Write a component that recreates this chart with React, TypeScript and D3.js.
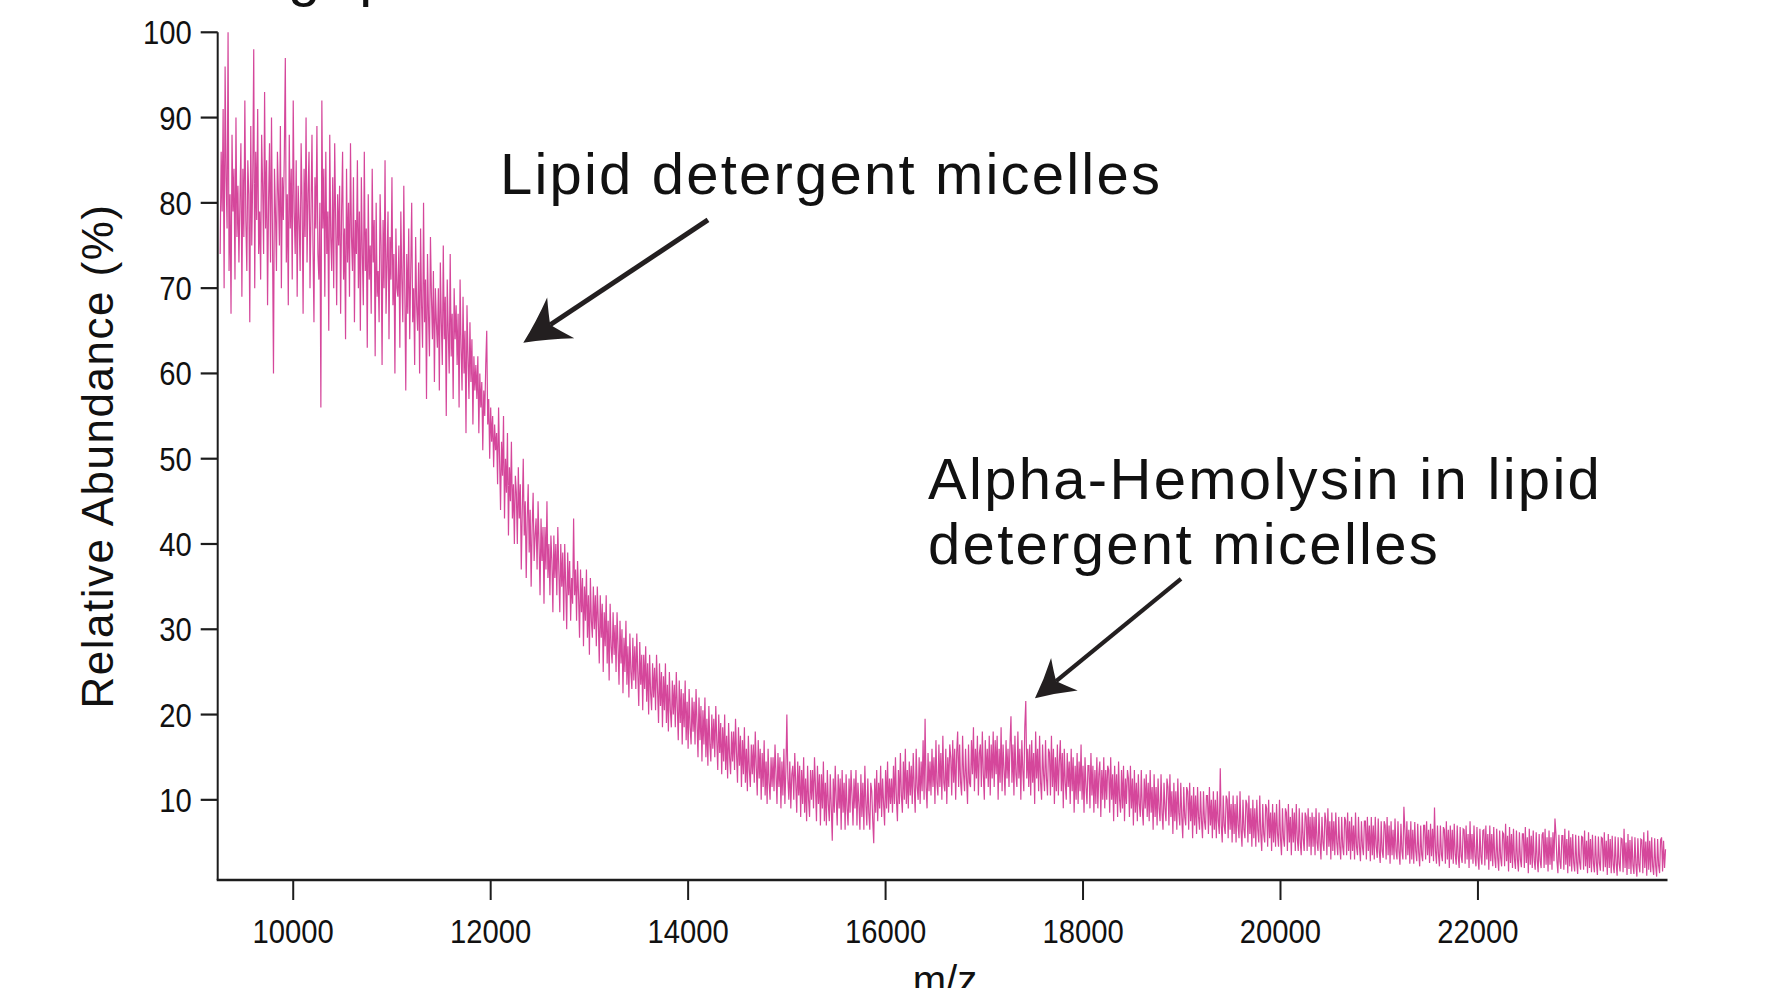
import React from "react";
import * as d3 from "d3";

// ---- data ----
const mzStart = 9260;
const mzStep = 10;
const relAbundance: number[] = [
  74, 86, 79, 91, 70, 96, 83, 77, 100, 72, 81, 67, 88, 79, 84, 71, 90, 76, 82, 73,
  80, 87, 69, 84, 76, 92, 78, 72, 85, 81, 66, 89, 75, 83, 98, 70, 86, 78, 91, 74,
  79, 71, 88, 82, 74, 93, 77, 85, 68, 80, 87, 73, 90, 76, 60, 84, 79, 72, 86, 81,
  75, 89, 70, 83, 78, 86, 97, 73, 81, 68, 88, 77, 84, 71, 92, 79, 74, 85, 69, 82,
  78, 72, 87, 80, 67, 84, 76, 90, 73, 81, 86, 70, 79, 88, 75, 66, 83, 77, 89, 74,
  71, 80, 56, 92, 77, 84, 69, 86, 74, 79, 65, 88, 76, 72, 83, 70, 87, 78, 68, 81,
  75, 82, 67, 79, 86, 71, 77, 64, 84, 73, 80, 69, 87, 76, 72, 83, 66, 78, 74, 85,
  70, 79, 65, 83, 74, 68, 86, 72, 77, 63, 81, 71, 75, 67, 84, 73, 78, 62, 80, 69,
  72, 66, 81, 75, 61, 78, 70, 85, 67, 73, 79, 64, 76, 71, 83, 68, 74, 60, 77, 70,
  69, 75, 63, 79, 71, 66, 82, 70, 58, 74, 67, 77, 64, 72, 80, 66, 70, 61, 76, 68,
  65, 73, 60, 77, 68, 63, 80, 66, 71, 57, 74, 67, 62, 76, 69, 64, 72, 59, 70, 66,
  63, 70, 58, 73, 66, 61, 75, 64, 69, 55, 71, 65, 60, 74, 62, 67, 57, 70, 64, 68,
  61, 67, 56, 71, 63, 58, 69, 60, 65, 53, 68, 62, 57, 66, 59, 64, 54, 62, 58, 61,
  57, 62, 53, 60, 56, 59, 51, 58, 55, 61, 65, 54, 57, 50, 56, 52, 55, 49, 54, 51,
  53, 47, 56, 50, 44, 52, 48, 55, 43, 50, 46, 53, 41, 49, 45, 52, 43, 47, 40, 48,
  46, 40, 49, 43, 47, 37, 44, 50, 41, 45, 36, 43, 47, 39, 44, 35, 42, 46, 38, 41,
  43, 37, 45, 40, 34, 43, 38, 42, 33, 42, 37, 45, 36, 40, 34, 41, 38, 32, 41, 36,
  40, 34, 42, 37, 32, 40, 35, 39, 31, 40, 35, 30, 39, 34, 38, 31, 36, 33, 43, 34,
  37, 31, 38, 34, 29, 37, 32, 36, 28, 35, 31, 37, 29, 34, 27, 36, 31, 29, 35, 30,
  34, 28, 35, 31, 26, 34, 29, 33, 25, 32, 28, 34, 26, 31, 24, 33, 28, 26, 32, 27,
  30.5, 25, 32, 28, 23.5, 31, 26, 30, 22.5, 29, 25, 31, 23.5, 28, 22, 29.5, 25, 23, 29, 24,
  28, 23, 29.5, 25, 21, 28.5, 23.5, 27, 20.5, 27, 23, 28, 21.5, 26, 20, 27, 22.5, 20.5, 26, 22,
  25.5, 20.5, 27, 23, 19, 26, 21, 25, 18.5, 24.5, 20.5, 26, 19, 23.5, 18, 25, 20.5, 18.5, 24, 20,
  23.5, 18.5, 25, 21, 17, 24, 19, 23, 16.5, 22.5, 18.5, 24, 17, 21.5, 16, 23, 18.5, 16.5, 22, 18,
  21.5, 16.5, 23, 19, 15, 22, 17, 21, 14.5, 20.5, 16.5, 22, 15, 19.5, 14, 21, 16.5, 14.5, 20, 16,
  19.5, 15, 21, 17, 13.5, 20, 15.5, 19, 13, 18.5, 14.5, 20, 13.5, 17.5, 12.5, 19, 15, 13, 18, 14.5,
  18, 13.5, 19.5, 15.5, 12, 18.5, 14, 17.5, 11.5, 17, 13, 18.5, 12, 16, 11, 17.5, 13.5, 11.5, 16.5, 13,
  16.5, 12, 18, 14, 10.5, 17, 12.5, 16, 10, 15.5, 11.5, 17, 10.5, 14.5, 9.5, 16, 12, 10, 15, 11.5,
  15, 11, 16.5, 13, 9.5, 15.5, 11.5, 15, 9, 14.5, 10.5, 16, 9.5, 13.5, 20, 12.5, 10, 14.5, 9, 13,
  14, 10, 15.5, 12, 8.5, 14.5, 10.5, 14, 8, 13.5, 9.5, 15, 8.5, 12.5, 7.5, 14, 10, 8, 13.5, 10,
  13.5, 9, 15, 11.5, 7.5, 14, 9.5, 13, 7, 13, 9, 14.5, 7.5, 12, 7, 13.5, 9.5, 7.5, 13, 9,
  5.2, 12.5, 8.5, 14, 10, 7, 13, 9, 12.5, 6.5, 13.5, 8.5, 12, 6.5, 13, 9, 7, 12.5, 8.5, 13.5,
  10.5, 7, 12.5, 9, 13.5, 7, 12, 9.5, 6.5, 13, 8, 12, 6.5, 14, 9.5, 7, 12.5, 8.5, 6.5, 12,
  11, 7.5, 4.9, 12.5, 8.5, 13.5, 7.5, 12, 9, 14, 8, 12.5, 9.5, 7, 13.5, 9, 14.5, 8.5, 12.5, 9.5,
  12.5, 8.5, 14, 9.5, 15, 10, 7.5, 13.5, 9.5, 15.5, 10.5, 8.5, 14.5, 10, 16, 9.5, 13.5, 9, 14.5, 10.5,
  14, 9.5, 15.5, 11.5, 8.5, 16, 11.5, 10, 15, 9.5, 14.5, 11, 17, 10, 19.5, 11.5, 9, 15.5, 11, 14.5,
  10.5, 16, 11.5, 15, 9.5, 17, 12, 10.5, 16.5, 11.5, 15.5, 10, 17.5, 12, 11, 16, 9.5, 15, 11.5, 16.5,
  15, 10.5, 17, 12, 16, 10, 15.5, 18, 11.5, 16.5, 12, 10.5, 17.5, 13, 11, 16, 12.5, 9.5, 16.5, 12,
  11.5, 17, 13, 18.5, 11, 16, 12.5, 17.5, 10.5, 15.5, 16.5, 11.5, 18, 13, 10, 17, 12.5, 16, 11.5, 17.5,
  10.5, 16.5, 12.5, 18, 11.5, 17, 13, 17.5, 10, 16, 12, 18.5, 11, 16.5, 13.5, 10.5, 17, 12.5, 16, 11.5,
  16.5, 19.8, 12, 16.5, 10.5, 17.5, 13, 11.5, 18, 12.5, 16, 10, 17, 13.5, 11, 18.5, 21.6, 12.5, 16, 11.5,
  16.5, 10.5, 17, 12, 15.5, 9.5, 18, 12.5, 16, 11, 17.5, 12, 10, 16.5, 13, 11, 17, 12.5, 10.5, 16,
  15.5, 10.5, 17.5, 11.5, 16, 9.5, 15, 11, 16.5, 10.5, 14.5, 17, 11, 15.5, 9, 16, 12, 10, 15.5, 11.5,
  14.5, 9.5, 16, 11, 15, 8.5, 14, 10, 15.5, 9.5, 14.5, 11, 16.5, 10, 14, 8.5, 15, 11.5, 9.5, 14,
  14, 9, 15.5, 10.5, 14, 8.5, 13.5, 9.5, 15, 9, 13, 14.5, 8, 13.5, 10, 15, 9, 13.5, 10, 14,
  13.5, 8.5, 15, 10, 13, 7.5, 14, 9.5, 13, 8, 14.5, 10, 8.5, 13.5, 9, 14, 7.5, 12.5, 9.5, 13.5,
  12.5, 8, 14, 9, 12.5, 7, 13.5, 8.5, 12, 7.5, 13, 9.5, 8, 13.5, 9, 7, 12.5, 9, 13, 8,
  12, 7.5, 13.5, 8.5, 11.5, 6.5, 13, 8, 11.5, 7, 12.5, 9, 7.5, 13, 8.5, 6.5, 12, 9, 7.5, 12.5,
  11.5, 7, 13, 8, 11, 6, 12, 7.5, 11, 6.5, 12.5, 8.5, 7, 12, 8, 5.5, 11.5, 8, 7, 11.5,
  11, 6.5, 12, 7.5, 10.5, 5.5, 11.5, 7, 10.5, 6, 11.5, 8, 6.5, 11, 7.5, 5.5, 11, 7.5, 6.5, 10.5,
  10.5, 6, 11.5, 7, 10, 5.5, 11, 6.5, 10, 5.5, 11, 7.5, 6, 13.7, 7, 5, 10.5, 7, 6, 10.5,
  10, 5.5, 11, 6.5, 9.5, 5, 10.5, 6, 9.5, 5, 10.5, 7, 5.5, 11, 6.5, 4.5, 10, 6.5, 5.5, 10,
  9.5, 5, 10.5, 6, 9, 4.5, 10, 5.5, 9, 4.5, 10, 6.5, 5, 10.5, 6, 4, 9.5, 6, 5, 9.5,
  9, 4.5, 10, 5.5, 8.5, 4, 9.5, 5, 8.5, 4.5, 9.5, 6, 4.5, 10, 5.5, 3.5, 9, 5.5, 4.5, 9,
  8.5, 4, 9.5, 5, 8, 3.5, 9, 5, 8.5, 4, 9.5, 5.5, 4, 9, 5, 3.5, 8.5, 5.5, 4, 8.5,
  8, 4, 9, 4.5, 8, 3.5, 8.5, 4.5, 8, 3.5, 9, 5, 4, 8.5, 5, 3, 8, 5, 4, 8.5,
  7.5, 3.5, 9, 4.5, 7.5, 3, 8.5, 4, 7.5, 3.5, 8.5, 5, 3.5, 8, 4.5, 3, 8, 4.5, 3.5, 8,
  7.5, 3.5, 8.5, 4, 7.5, 3, 8, 4, 7, 3, 8.5, 4.5, 3.5, 8, 4.5, 2.8, 7.5, 4.5, 3.5, 7.5,
  7.5, 3, 8, 4, 7, 2.8, 8, 3.5, 7, 3, 8, 4.5, 3.2, 7.8, 4, 2.6, 7.5, 4, 3.2, 7.5,
  7, 3, 8, 3.5, 7, 2.5, 7.5, 3.5, 6.5, 3, 7.8, 4, 3, 7.5, 4, 2.4, 7.2, 4, 3, 9.2,
  6.5, 3, 7.5, 3.5, 6.5, 2.5, 7.5, 3, 6.5, 2.5, 7.4, 4, 2.8, 7.2, 3.8, 2.2, 7, 3.6, 2.8, 7,
  7, 3, 7.5, 3.5, 6.5, 2.6, 7.2, 3.4, 6.6, 2.8, 9.1, 4, 2.5, 7, 3.6, 2.2, 7, 3.6, 2.8, 6.8,
  6.5, 2.5, 7.5, 3, 6.5, 2, 7, 3, 6.5, 2.5, 7.2, 3.6, 2.4, 7, 3.4, 2, 6.8, 3.4, 2.6, 6.6,
  6.5, 2.5, 7, 3, 6, 2, 7.5, 3, 6, 2.5, 7, 3.4, 2.2, 6.8, 3.2, 1.8, 6.6, 3.4, 2.4, 6.4,
  6.5, 2.3, 7, 3, 6, 1.8, 7, 2.8, 6, 2.2, 6.8, 3.2, 2, 6.6, 3.2, 1.7, 6.4, 3.2, 2.2, 6.2,
  6, 2.2, 7.2, 2.8, 5.8, 1.6, 6.8, 2.6, 6, 2, 6.6, 3, 1.9, 6.4, 3, 1.6, 6.2, 3, 2.1, 6,
  6, 2, 6.8, 2.6, 5.6, 1.4, 6.6, 2.4, 5.8, 2, 6.4, 2.9, 1.8, 6.2, 2.9, 1.5, 6, 2.9, 2, 5.9,
  6.2, 2, 6.6, 2.4, 5.6, 1.6, 6.4, 2.4, 5.6, 1.8, 6.2, 2.8, 7.8, 6, 2.8, 1.4, 5.9, 2.8, 1.9, 5.8,
  5.8, 1.8, 6.6, 2.4, 5.4, 1.4, 6.4, 2.2, 5.6, 1.6, 6, 2.6, 1.6, 5.9, 2.7, 1.3, 5.8, 2.7, 1.8, 5.7,
  5.6, 1.8, 6.4, 2.2, 5.2, 1.4, 6.2, 2, 5.4, 1.5, 5.9, 2.5, 1.5, 5.8, 2.6, 1.2, 5.7, 2.6, 1.7, 5.6,
  5.5, 1.6, 6.2, 2.1, 5.2, 1.2, 6, 2, 5.4, 1.4, 5.8, 2.4, 1.4, 5.7, 2.5, 1.1, 5.6, 2.5, 1.6, 5.5,
  5.4, 1.5, 6.6, 2, 5, 1.2, 6, 1.9, 5.3, 1.3, 5.7, 2.3, 1.3, 5.6, 2.4, 1.0, 5.5, 2.4, 1.5, 5.4,
  5.3, 1.4, 6.2, 2, 5.1, 1.1, 6.4, 1.8, 5.2, 1.5, 5.6, 2.2, 1.2, 5.5, 2.3, 1.0, 5.4, 2.3, 1.4, 5.3,
  5.6, 1.6, 5.2, 2, 4.2,
];

const xTicks = [10000, 12000, 14000, 16000, 18000, 20000, 22000];
const yTicks = [10, 20, 30, 40, 50, 60, 70, 80, 90, 100];
const xDomain: [number, number] = [9235, 23920];
const yDomain: [number, number] = [0.6, 100];

const titleText = "Loading: protein";
const xLabel = "m/z";
const yLabel = "Relative Abundance (%)";

// annotations: text anchors, arrow tails and tips in data coordinates (m/z, %)
const annotation1Lines = ["Lipid detergent micelles"];
const annotation1Anchor = { mz: 12094, ab: 81.05 };
const arrow1 = { tail: { mz: 14201, ab: 78.0 }, tip: { mz: 12330, ab: 63.6 } };

const annotation2Lines = ["Alpha-Hemolysin in lipid", "detergent micelles"];
const annotation2Anchor = { mz: 16430, ab: 45.3 };
const arrow2 = { tail: { mz: 18992, ab: 35.9 }, tip: { mz: 17513, ab: 21.9 } };

// ---- layout ----
const W = 1769;
const H = 988;
const plot = { left: 217.7, right: 1667.5, top: 32.3, bottom: 880 };
const lineColor = "#D5479B";
const axisColor = "#1c1c1c";
const font = "'Liberation Sans', Arial, Helvetica, sans-serif";

function arrowHead(
  tx: number, ty: number, sx: number, sy: number,
  len: number, half: number
) {
  const dx = sx - tx, dy = sy - ty;
  const d = Math.hypot(dx, dy);
  const ux = dx / d, uy = dy / d;
  const nx = -uy, ny = ux;
  const notch = len * 0.72;
  const A = [tx + ux * len - nx * half, ty + uy * len - ny * half];
  const B = [tx + ux * len + nx * half, ty + uy * len + ny * half];
  const M = [tx + ux * notch, ty + uy * notch];
  const back = notch + (len - notch) * 0.3;
  const cA = [tx + ux * back - nx * half * 0.35, ty + uy * back - ny * half * 0.35];
  const cB = [tx + ux * back + nx * half * 0.35, ty + uy * back + ny * half * 0.35];
  const sA = [tx + ux * len * 0.5 - nx * half * 0.42, ty + uy * len * 0.5 - ny * half * 0.42];
  const sB = [tx + ux * len * 0.5 + nx * half * 0.42, ty + uy * len * 0.5 + ny * half * 0.42];
  const path =
    `M${tx},${ty} Q${sA[0]},${sA[1]} ${A[0]},${A[1]} ` +
    `Q${cA[0]},${cA[1]} ${M[0]},${M[1]} ` +
    `Q${cB[0]},${cB[1]} ${B[0]},${B[1]} ` +
    `Q${sB[0]},${sB[1]} ${tx},${ty} Z`;
  return { path, notch: M };
}

export default function App() {
  const x = d3.scaleLinear().domain(xDomain).range([plot.left, plot.right]);
  const y = d3.scaleLinear().domain(yDomain).range([plot.bottom, plot.top]);

  const pts: [number, number][] = relAbundance.map((v, i) => [mzStart + i * mzStep, v]);
  const line = d3
    .line<[number, number]>()
    .x((d) => x(d[0]))
    .y((d) => y(d[1]));

  const arrows = [
    { a: arrow1, len: 45, half: 24.5, w: 5 },
    { a: arrow2, len: 38, half: 21, w: 4.2 },
  ].map(({ a, len, half, w }) => {
    const tx = x(a.tip.mz), ty = y(a.tip.ab);
    const sx = x(a.tail.mz), sy = y(a.tail.ab);
    const h = arrowHead(tx, ty, sx, sy, len, half);
    return { sx, sy, h, w };
  });

  const tickFont = 34;

  return (
    <svg
      width={W}
      height={H}
      viewBox={`0 0 ${W} ${H}`}
      style={{ position: "absolute", left: 0, top: 0, background: "#fff" }}
      fontFamily={font}
    >
      <rect x={0} y={0} width={W} height={H} fill="#fff" />

      {/* title, cut off at the top edge as in the reference */}
      <text x={100} y={-5} fontSize={58} letterSpacing={2.3} fill="#111">
        {titleText}
      </text>

      {/* spectrum */}
      <path
        d={line(pts) || ""}
        fill="none"
        stroke={lineColor}
        strokeWidth={1.2}
        strokeLinejoin="miter"
      />

      {/* y axis */}
      <line x1={plot.left} x2={plot.left} y1={plot.top} y2={plot.bottom} stroke={axisColor} strokeWidth={2} />
      {yTicks.map((t) => (
        <g key={"y" + t}>
          <line x1={plot.left - 17} x2={plot.left} y1={y(t)} y2={y(t)} stroke={axisColor} strokeWidth={2.2} />
          <text
            transform={`translate(${plot.left - 26},${y(t) + 12}) scale(0.86,1)`}
            textAnchor="end"
            fontSize={tickFont}
            fill="#111"
          >
            {t}
          </text>
        </g>
      ))}

      {/* x axis */}
      <line x1={plot.left - 1} x2={plot.right} y1={plot.bottom} y2={plot.bottom} stroke={axisColor} strokeWidth={2.6} />
      {xTicks.map((t) => (
        <g key={"x" + t}>
          <line x1={x(t)} x2={x(t)} y1={plot.bottom} y2={plot.bottom + 20} stroke={axisColor} strokeWidth={2} />
          <text
            transform={`translate(${x(t)},${942.7}) scale(0.86,1)`}
            textAnchor="middle"
            fontSize={tickFont}
            fill="#111"
          >
            {t}
          </text>
        </g>
      ))}

      {/* axis labels (x label is cut by the bottom edge, as in the reference) */}
      <text x={945} y={994} textAnchor="middle" fontSize={40} fill="#111">
        {xLabel}
      </text>
      <text
        transform={`translate(113,456) rotate(-90)`}
        textAnchor="middle"
        fontSize={44}
        letterSpacing={1.5}
        fill="#111"
      >
        {yLabel}
      </text>

      {/* annotations */}
      {annotation1Lines.map((s, i) => (
        <text
          key={"a1" + i}
          x={x(annotation1Anchor.mz)}
          y={y(annotation1Anchor.ab) + i * 65.5}
          fontSize={58}
          letterSpacing={2.2}
          fill="#111"
        >
          {s}
        </text>
      ))}
      {annotation2Lines.map((s, i) => (
        <text
          key={"a2" + i}
          x={x(annotation2Anchor.mz)}
          y={y(annotation2Anchor.ab) + i * 65.5}
          fontSize={58}
          letterSpacing={2.3}
          fill="#111"
        >
          {s}
        </text>
      ))}

      {arrows.map((ar, i) => (
        <g key={"ar" + i}>
          <line
            x1={ar.sx}
            y1={ar.sy}
            x2={ar.h.notch[0]}
            y2={ar.h.notch[1]}
            stroke="#231f20"
            strokeWidth={ar.w}
          />
          <path d={ar.h.path} fill="#231f20" />
        </g>
      ))}
    </svg>
  );
}
